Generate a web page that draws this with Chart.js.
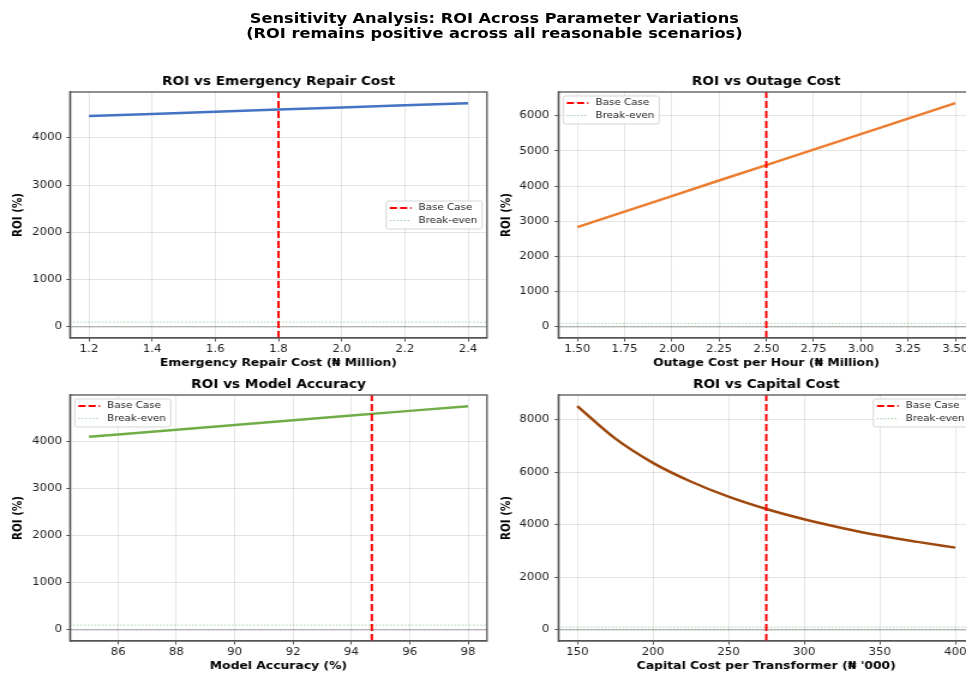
<!DOCTYPE html>
<html>
<head>
<meta charset="utf-8">
<script src="https://cdn.jsdelivr.net/npm/chart.js@4/dist/chart.umd.min.js"></script>
<style>
  html, body { margin: 0; padding: 0; background: #fff; overflow: hidden; width: 966px; height: 673px; }
  /* the reference is stretched sideways, so the whole figure is too */
  #fig { position: absolute; left: 0; top: 0; width: 830px; height: 673px;
         transform: scaleX(1.2); transform-origin: 0 0; }
  #title { position: absolute; left: 0; top: 10.5px; width: 824px; text-align: center;
           font: bold 13.5px 'DejaVu Sans'; line-height: 15px; color: #000; }
  .panel { position: absolute; width: 408px; height: 320px; }
</style>
</head>
<body>
<div id="fig">
  <div id="title">Sensitivity Analysis: ROI Across Parameter Variations<br>(ROI remains positive across all reasonable scenarios)</div>
  <div class="panel" style="left:0;top:60px"><canvas id="c1"></canvas></div>
  <div class="panel" style="left:408px;top:60px"><canvas id="c2"></canvas></div>
  <div class="panel" style="left:0;top:363px"><canvas id="c3"></canvas></div>
  <div class="panel" style="left:408px;top:363px"><canvas id="c4"></canvas></div>
</div>
<script>
// ROI
const repairCost = [1.2, 1.4, 1.6, 1.8, 2.0, 2.2, 2.4];
const repairRoi = [4462, 4508, 4553, 4599, 4645, 4690, 4736];

const outageCost = [1.5, 1.75, 2.0, 2.25, 2.5, 2.75, 3.0, 3.25, 3.5];
const outageRoi = [2835, 3275, 3715, 4160, 4600, 5040, 5480, 5920, 6360];

const accuracy = [85, 86, 88, 90, 92, 94, 96, 98];
const accuracyRoi = [4106, 4156, 4256, 4356, 4456, 4556, 4656, 4756];

const capitalCost = [150, 175, 200, 225, 250, 275, 300, 325, 350, 375, 400];
const capitalRoi = [8520, 7290, 6360, 5650, 5070, 4600, 4210, 3880, 3590, 3350, 3130];

// base case markers
const baseRepair = 1.8;
const baseOutage = 2.5;
const baseAccuracy = 94.7;
const baseCapital = 275;
const breakEven = 100;

// tick labels
const repairTicks = [1.2, 1.4, 1.6, 1.8, 2.0, 2.2, 2.4];
const outageTicks = [1.5, 1.75, 2.0, 2.25, 2.5, 2.75, 3.0, 3.25, 3.5];
const accuracyTicks = [86, 88, 90, 92, 94, 96, 98];
const capitalTicks = [150, 200, 250, 300, 350, 400];
const roiTicks4k = [0, 1000, 2000, 3000, 4000];
const roiTicks6k = [0, 1000, 2000, 3000, 4000, 5000, 6000];
const roiTicks8k = [0, 2000, 4000, 6000, 8000];

Chart.defaults.font.family = "'DejaVu Sans'";
Chart.defaults.color = '#222';

const spines = {
  id: 'spines',
  afterDraw(chart) {
    const { ctx, chartArea: a } = chart;
    ctx.save();
    ctx.strokeStyle = '#555';
    ctx.lineWidth = 1.3;
    ctx.strokeRect(a.left, a.top, a.right - a.left, a.bottom - a.top);
    ctx.restore();
  }
};

const insideLegend = {
  id: 'insideLegend',
  afterDatasetsDraw(chart, args, opts) {
    const { ctx, chartArea: a } = chart;
    const items = chart.data.datasets.filter(d => d.label);
    const w = 80, h = 28;
    let x, y;
    if (opts.where === 'upper left') { x = a.left + 4; y = a.top + 4; }
    else if (opts.where === 'upper right') { x = a.right - 4 - w; y = a.top + 4; }
    else { x = a.right - 4 - w; y = (a.top + a.bottom) / 2 - h / 2; }
    ctx.save();
    ctx.beginPath();
    ctx.roundRect(x, y, w, h, 2);
    ctx.fillStyle = 'rgba(255,255,255,0.85)';
    ctx.fill();
    ctx.strokeStyle = '#d4d4d4';
    ctx.lineWidth = 1;
    ctx.stroke();
    items.forEach((d, i) => {
      const cy = y + 7 + i * 12.6;
      ctx.beginPath();
      ctx.strokeStyle = d.borderColor;
      ctx.lineWidth = d.borderWidth;
      ctx.setLineDash(d.legendDash || d.borderDash || []);
      ctx.moveTo(x + 3, cy);
      ctx.lineTo(x + 21, cy);
      ctx.stroke();
      ctx.setLineDash([]);
      ctx.fillStyle = '#222';
      ctx.font = "8.6px 'DejaVu Sans'";
      ctx.textBaseline = 'middle';
      ctx.fillText(d.label, x + 27, cy);
    });
    ctx.restore();
  }
};

function makePanel(id, p) {
  const pts = p.x.map((v, i) => ({ x: v, y: p.y[i] }));
  new Chart(document.getElementById(id), {
    type: 'line',
    data: {
      datasets: [
        { label: 'Base Case', data: [{ x: p.base, y: p.yMin }, { x: p.base, y: p.yMax }],
          borderColor: '#ff0000', borderWidth: 2, borderDash: [7, 3], legendDash: [6, 2.5], pointRadius: 0 },
        { data: pts, borderColor: p.color, borderWidth: 2.5, pointRadius: 0,
          cubicInterpolationMode: p.smooth ? 'monotone' : 'default' },
        { label: 'Break-even', data: [{ x: p.xMin, y: breakEven }, { x: p.xMax, y: breakEven }],
          borderColor: 'rgba(0,128,0,0.5)', borderWidth: 1, borderDash: [1, 2], pointRadius: 0 },
        { data: [{ x: p.xMin, y: 0 }, { x: p.xMax, y: 0 }],
          borderColor: 'rgba(0,0,0,0.22)', borderWidth: 1.5, pointRadius: 0 }
      ]
    },
    options: {
      responsive: true,
      maintainAspectRatio: false,
      animation: false,
      layout: { padding: { top: 4, right: p.right, left: 0, bottom: 0 } },
      plugins: {
        legend: { display: false },
        tooltip: { enabled: false },
        title: { display: true, fullSize: false, text: p.title, color: '#000',
                 font: { size: 11.4, weight: 'bold' }, padding: { top: 11.2, bottom: 3.1 } },
        insideLegend: { where: p.legend }
      },
      scales: {
        x: {
          type: 'linear', min: p.xMin, max: p.xMax,
          afterBuildTicks: s => { s.ticks = p.xTicks.map(v => ({ value: v })); },
          afterFit: s => { s.height = 42; },
          ticks: { callback: v => v.toFixed(p.xDec), font: { size: 9.8 }, padding: 2,
                   maxRotation: 0, autoSkip: false },
          grid: { color: 'rgba(0,0,0,0.1)', tickColor: '#555', tickLength: 3.5 },
          border: { color: '#555', width: 1.3 },
          title: { display: true, text: p.xTitle, color: '#000',
                   font: { size: 10.3, weight: 'bold' }, padding: { top: 0, bottom: 10 } }
        },
        y: {
          min: p.yMin, max: p.yMax,
          afterBuildTicks: s => { s.ticks = p.yTicks.map(v => ({ value: v })); },
          afterFit: s => { s.width = p.yw; },
          ticks: { callback: v => String(v), font: { size: 9.8 }, padding: p.yPad },
          grid: { color: 'rgba(0,0,0,0.1)', tickColor: '#555', tickLength: 3 },
          border: { color: '#555', width: 1.3 },
          title: { display: true, text: 'ROI (%)', color: '#000',
                   font: { size: 10.3, weight: 'bold' }, padding: { top: p.yTitlePad, bottom: 0 } }
        }
      }
    },
    plugins: [spines, insideLegend]
  });
}

makePanel('c1', {
  title: 'ROI vs Emergency Repair Cost', xTitle: 'Emergency Repair Cost (₦ Million)',
  x: repairCost, y: repairRoi, color: '#4472C4', base: baseRepair,
  xMin: 1.14, xMax: 2.46, yMin: -236, yMax: 4972, xTicks: repairTicks, yTicks: roiTicks4k,
  xDec: 1, legend: 'center right', right: 2.2, yw: 58.3, yPad: 3.5, yTitlePad: 9.4
});
makePanel('c2', {
  title: 'ROI vs Outage Cost', xTitle: 'Outage Cost per Hour (₦ Million)',
  x: outageCost, y: outageRoi, color: '#ED7D31', base: baseOutage,
  xMin: 1.4, xMax: 3.6, yMin: -318, yMax: 6678, xTicks: outageTicks, yTicks: roiTicks6k,
  xDec: 2, legend: 'upper left', right: 4.2, yw: 57.3, yPad: 4.5, yTitlePad: 8.1
});
makePanel('c3', {
  title: 'ROI vs Model Accuracy', xTitle: 'Model Accuracy (%)',
  x: accuracy, y: accuracyRoi, color: '#70AD47', base: baseAccuracy,
  xMin: 84.35, xMax: 98.65, yMin: -238, yMax: 4994, xTicks: accuracyTicks, yTicks: roiTicks4k,
  xDec: 0, legend: 'upper left', right: 2.2, yw: 58.3, yPad: 3.5, yTitlePad: 9.4
});
makePanel('c4', {
  title: 'ROI vs Capital Cost', xTitle: 'Capital Cost per Transformer (₦ \'000)',
  x: capitalCost, y: capitalRoi, color: '#9E480E', base: baseCapital, smooth: true,
  xMin: 137.5, xMax: 412.5, yMin: -426, yMax: 8945, xTicks: capitalTicks, yTicks: roiTicks8k,
  xDec: 0, legend: 'upper right', right: 4.2, yw: 57.3, yPad: 4.5, yTitlePad: 8.1
});
</script>
</body>
</html>
